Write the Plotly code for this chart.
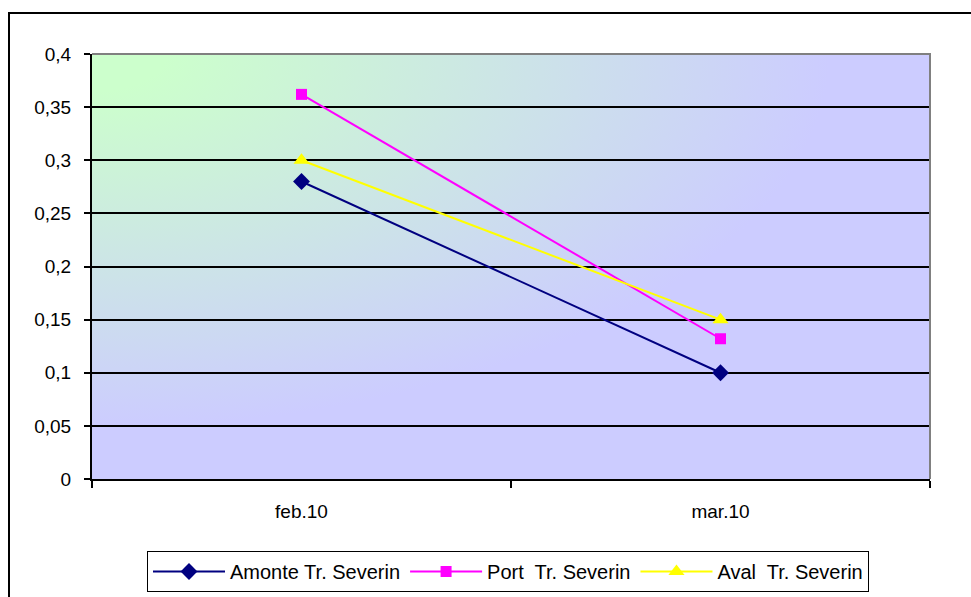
import plotly.graph_objects as go

categories = ["feb.10", "mar.10"]
amonte = [0.28, 0.10]
port = [0.362, 0.132]
aval = [0.30, 0.15]
series_names = ["Amonte Tr. Severin", "Port\u00a0 Tr. Severin", "Aval\u00a0 Tr. Severin"]
y_ticks = [0, 0.05, 0.1, 0.15, 0.2, 0.25, 0.3, 0.35, 0.4]
y_ticktext = ["0", "0,05", "0,1", "0,15", "0,2", "0,25", "0,3", "0,35", "0,4"]

W, H = 971, 597
L, R, T, B = 92, 930, 54, 479

fig = go.Figure()
fig.add_trace(go.Scatter(x=categories, y=amonte, name=series_names[0], mode="lines+markers",
                         line=dict(color="#000080", width=2),
                         marker=dict(symbol="diamond", size=13, color="#000080")))
fig.add_trace(go.Scatter(x=categories, y=port, name=series_names[1], mode="lines+markers",
                         line=dict(color="#FF00FF", width=2),
                         marker=dict(symbol="square", size=11, color="#FF00FF")))
fig.add_trace(go.Scatter(x=categories, y=aval, name=series_names[2], mode="lines+markers",
                         line=dict(color="#FFFF00", width=2),
                         marker=dict(symbol="triangle-up", size=14, color="#FFFF00")))

svg = ("data:image/svg+xml;utf8,<svg xmlns='http://www.w3.org/2000/svg' width='838' height='426' "
       "preserveAspectRatio='none' viewBox='0 0 1 1'>"
       "<defs><radialGradient id='g' cx='0' cy='0' r='0.88' fx='0' fy='0'>"
       "<stop offset='0' stop-color='%23CCFFCC'/><stop offset='0.1' stop-color='%23CCFFCC'/>"
       "<stop offset='1' stop-color='%23CCCCFF'/>"
       "</radialGradient></defs><rect x='0' y='0' width='1' height='1' fill='url(%23g)'/></svg>")

fig.add_layout_image(dict(source=svg, xref="paper", yref="paper", x=0, y=1,
                          sizex=1, sizey=1, xanchor="left", yanchor="top",
                          sizing="stretch", layer="below"))

pw, ph = R - L, B - T
# outer chart border
fig.add_shape(type="rect", xref="paper", yref="paper",
              x0=(9 - L) / pw, x1=(W + 30 - L) / pw,
              y0=(B - (H + 30)) / ph, y1=(B - 13) / ph,
              line=dict(color="black", width=2), fillcolor="rgba(0,0,0,0)", layer="below")
# plot area top/right border (gray)
fig.add_shape(type="path", xref="paper", yref="paper",
              path="M 0 1 L 1 1 L 1 0", line=dict(color="#808080", width=2), layer="above")

fig.update_layout(
    width=W, height=H,
    margin=dict(l=L, r=W - R, t=T, b=H - B, autoexpand=False),
    paper_bgcolor="white", plot_bgcolor="rgba(0,0,0,0)",
    font=dict(family="Liberation Sans, Arial", size=19, color="black"),
    showlegend=True,
    legend=dict(orientation="h", xref="container", yref="container",
                x=508 / W, xanchor="center", y=1 - 551 / H, yanchor="top",
                bordercolor="black", borderwidth=1, bgcolor="white",
                font=dict(size=20), itemwidth=72, tracegroupgap=0),
    xaxis=dict(type="category", range=[-0.5, 1.5], showgrid=False, tickson="boundaries",
               ticks="outside", ticklen=7, tickwidth=1.5, tickcolor="black",
               showline=True, linecolor="black", linewidth=2, zeroline=False,
               ticklabelstandoff=14, tickfont=dict(size=19)),
    yaxis=dict(range=[0, 0.4], tickvals=y_ticks, ticktext=y_ticktext,
               showgrid=True, gridcolor="black", gridwidth=1.5,
               ticks="outside", ticklen=6, tickwidth=1.5, tickcolor="black",
               showline=True, linecolor="black", linewidth=2, zeroline=False,
               ticklabelstandoff=9, tickfont=dict(size=19)),
)

fig.write_html("out.html")
